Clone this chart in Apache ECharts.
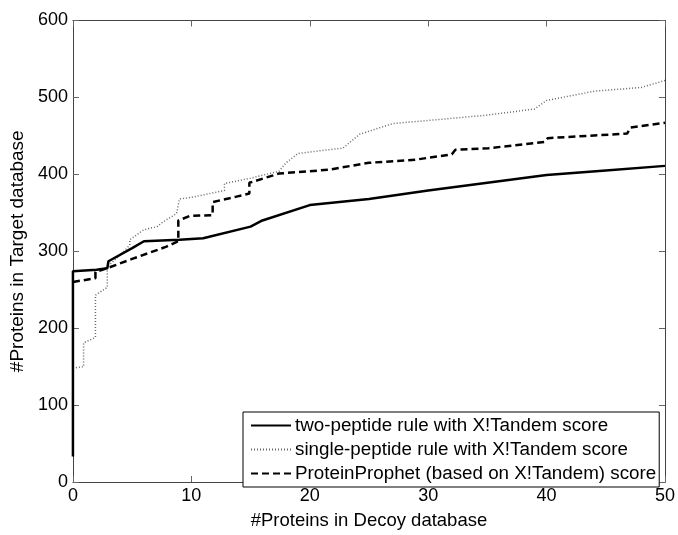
<!DOCTYPE html>
<html>
<head>
<meta charset="utf-8">
<script src="https://cdn.jsdelivr.net/npm/echarts@6/dist/echarts.min.js"></script>
<style>html,body{margin:0;padding:0;background:#fff}#c{width:678px;height:535px}</style>
</head>
<body>
<div id="c"></div>
<script>
const seriesNames = [
  'two-peptide rule with X!Tandem score',
  'single-peptide rule with X!Tandem score',
  'ProteinProphet (based on X!Tandem) score'
];
const xTicks = [0, 10, 20, 30, 40, 50];
const yTicks = [0, 100, 200, 300, 400, 500, 600];
const twoPeptide = [[0,33],[0,274],[2,276],[2.9,278],[3,287],[5,304],[6,313],[9,315],[11,317],[15,332],[16,340],[20,360],[25,368],[30,379],[35,389],[40,399],[45,405],[50,411]];
const singlePeptide = [[0,148],[0.9,150],[0.9,181],[1.9,188],[1.9,243],[2.9,253],[2.9,280],[4,295],[4.8,308],[4.8,315],[6,328],[7.1,332],[7.6,338],[8.75,349],[9,368],[10,370],[12.8,379],[12.8,388],[15,395],[17.4,404],[18,415],[19,427],[21,431],[22.8,434],[24.2,452],[27,466],[30,470],[35,477],[39,485],[40,496],[44,508],[48,513],[50,522]];
const proteinProphet = [[0,260],[1.9,265],[1.9,273],[2.9,278],[5,290],[7.9,306],[8.9,313],[8.9,340],[9.9,346],[11.8,347],[11.8,364],[13.8,371],[14.9,375],[14.9,389],[17.4,401],[21.6,406],[25,415],[28.9,419],[32,426],[32.3,432],[35.1,434],[39.8,442],[40.1,447],[46.8,453],[47.1,461],[50,467]];

const FONT = 'Liberation Sans, Arial, Helvetica, sans-serif';
const chart = echarts.init(document.getElementById('c'));
const xMin = xTicks[0], xMax = xTicks[xTicks.length-1], xInt = xTicks[1]-xTicks[0];
const yMin = yTicks[0], yMax = yTicks[yTicks.length-1], yInt = yTicks[1]-yTicks[0];
const axisLineStyle = {color:'#444', width:1};
const tickStyle = {show:true, inside:true, length:6, lineStyle:{color:'#666'}};
chart.setOption({
  animation:false,
  backgroundColor:'#fff',
  grid:{left:72.5, right:10.5, top:20.5, bottom:45},
  xAxis:[{
    type:'value', min:xMin, max:xMax, interval:xInt, position:'bottom',
    name:'#Proteins in Decoy database', nameLocation:'middle', nameGap:29,
    nameTextStyle:{fontFamily:FONT, fontSize:18.5, color:'#000'},
    axisLine:{show:true, onZero:false, lineStyle:axisLineStyle},
    axisTick:tickStyle,
    axisLabel:{fontFamily:FONT, fontSize:18, color:'#000', margin:5},
    splitLine:{show:false}
  },{
    type:'value', min:xMin, max:xMax, interval:xInt, position:'top',
    axisLine:{show:true, onZero:false, lineStyle:axisLineStyle},
    axisTick:tickStyle,
    axisLabel:{show:false}, splitLine:{show:false}
  }],
  yAxis:[{
    type:'value', min:yMin, max:yMax, interval:yInt, position:'left',
    name:'#Proteins in Target database', nameLocation:'middle', nameGap:38,
    nameTextStyle:{fontFamily:FONT, fontSize:19, color:'#000'},
    axisLine:{show:true, onZero:false, lineStyle:axisLineStyle},
    axisTick:tickStyle,
    axisLabel:{fontFamily:FONT, fontSize:18, color:'#000', margin:5},
    splitLine:{show:false}
  },{
    type:'value', min:yMin, max:yMax, interval:yInt, position:'right',
    axisLine:{show:true, onZero:false, lineStyle:axisLineStyle},
    axisTick:tickStyle,
    axisLabel:{show:false}, splitLine:{show:false}
  }],
  legend:{
    orient:'vertical', left:243, top:412,
    padding:[4,3,4,7],
    itemWidth:40, itemHeight:14, itemGap:5,
    borderColor:'#000', borderWidth:1, backgroundColor:'#fff',
    itemStyle:{opacity:0},
    textStyle:{fontFamily:FONT, fontSize:18.8, color:'#000', padding:[0,0,0,-1]},
    data:seriesNames
  },
  series:[
    {name:seriesNames[0], type:'line', data:twoPeptide, symbol:'none', z:3,
     lineStyle:{color:'#000', width:2.5, type:'solid'}, itemStyle:{color:'#000'}},
    {name:seriesNames[1], type:'line', data:singlePeptide, symbol:'none', z:2,
     lineStyle:{color:'#666', width:1.5, type:[1,2]}, itemStyle:{color:'#666'}},
    {name:seriesNames[2], type:'line', data:proteinProphet, symbol:'none', z:4,
     lineStyle:{color:'#000', width:2.5, type:[7,4]}, itemStyle:{color:'#000'}}
  ]
});
</script>
</body>
</html>
